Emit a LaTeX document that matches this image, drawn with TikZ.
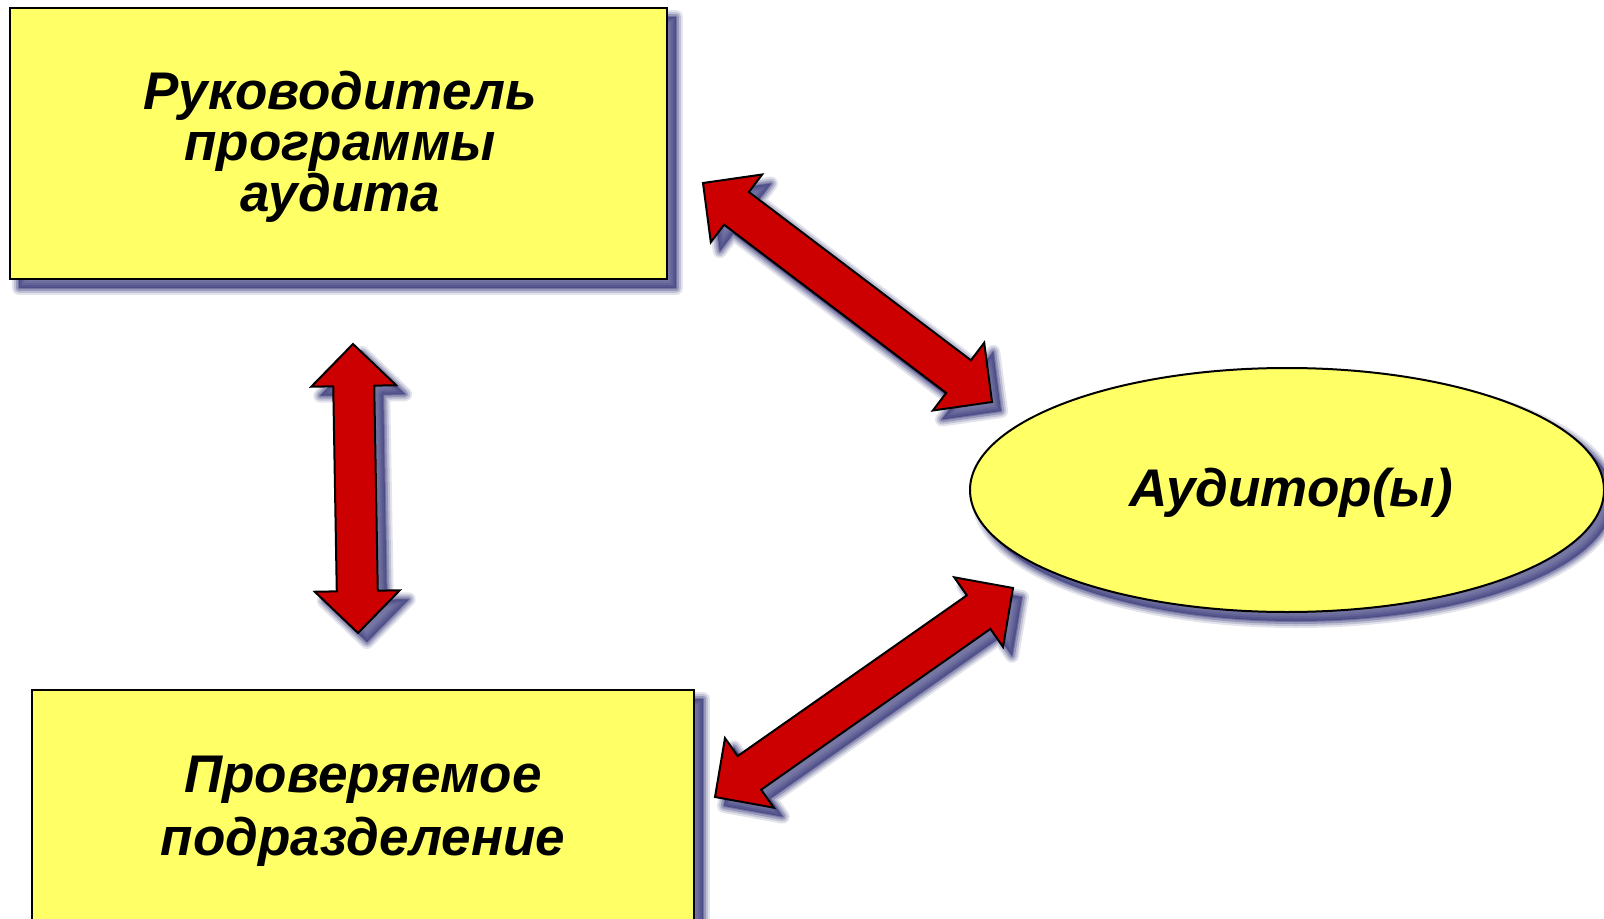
\documentclass[tikz,border=0pt]{standalone}
\usepackage{fontspec}
\setmainfont{Liberation Sans}
\usetikzlibrary{calc,shapes.geometric}
\definecolor{boxyellow}{RGB}{255,255,102}
\definecolor{arrred}{RGB}{204,0,0}
\definecolor{shadowblue}{RGB}{60,60,125}
\tikzset{
  shlayer/.style 2 args={preaction={transform canvas={shift={(4.5pt,-4.5pt)}},
     draw=shadowblue, draw opacity=#2, line width=#1, fill=none, line join=round}},
  shd/.style={shlayer={7pt}{0.14}, shlayer={5pt}{0.2}, shlayer={3pt}{0.3}, shlayer={1pt}{0.4},
     preaction={transform canvas={shift={(4.5pt,-4.5pt)}}, fill=shadowblue, fill opacity=0.7, draw=none}},
  lbl/.style={font=\fontsize{26.5}{25.5}\selectfont\bfseries\itshape, align=center, text=black},
  boxnode/.style={draw=black, line width=1pt, fill=boxyellow, shd, inner sep=0pt},
  arrowshape/.style={draw=black, line width=1pt, line join=miter, fill=arrred, shd},
}
\newcommand{\DArrow}[3]{%
  \coordinate (#3h1) at ($(#1)!21pt!(#2)$);
  \coordinate (#3h2) at ($(#2)!21pt!(#1)$);
  \draw[arrowshape] (#1) -- ($(#3h1)!21.25pt!90:(#2)$) -- ($(#3h1)!10.25pt!90:(#2)$)
    -- ($(#3h2)!10.25pt!-90:(#1)$) -- ($(#3h2)!21.25pt!-90:(#1)$) -- (#2)
    -- ($(#3h2)!21.25pt!90:(#1)$) -- ($(#3h2)!10.25pt!90:(#1)$)
    -- ($(#3h1)!10.25pt!-90:(#2)$) -- ($(#3h1)!21.25pt!-90:(#2)$) -- cycle;
}
\begin{document}
\begin{tikzpicture}[x=0.5pt,y=-0.5pt]
\useasboundingbox (0,0) rectangle (1604,919);
\fill[white] (0,0) rectangle (1604,919);
\node[boxnode, minimum width=328.5pt, minimum height=135.5pt] (lead) at (338.5,143.5) {};
\node[lbl] (leadt) at (340,147) {Руководитель\\программы\\аудита};
\node[boxnode, minimum width=331pt, minimum height=117pt] (unit) at (363,807) {};
\node[lbl, font=\fontsize{26.5}{31.5}\selectfont\bfseries\itshape] (unitt) at (363,811)
  {Проверяемое\\подразделение};
\node[boxnode, ellipse, minimum width=317pt, minimum height=122pt] (aud) at (1287,490) {};
\node[lbl] (audt) at (1291,493) {Аудитор(ы)};
\coordinate (vt) at (353,344);
\coordinate (vb) at (358,633);
\coordinate (d1a) at (703,183);
\coordinate (d1b) at (992,402);
\coordinate (d2a) at (1013,588);
\coordinate (d2b) at (715,797);
\DArrow{vt}{vb}{v}
\DArrow{d1a}{d1b}{p}
\DArrow{d2a}{d2b}{q}
\end{tikzpicture}
\end{document}
